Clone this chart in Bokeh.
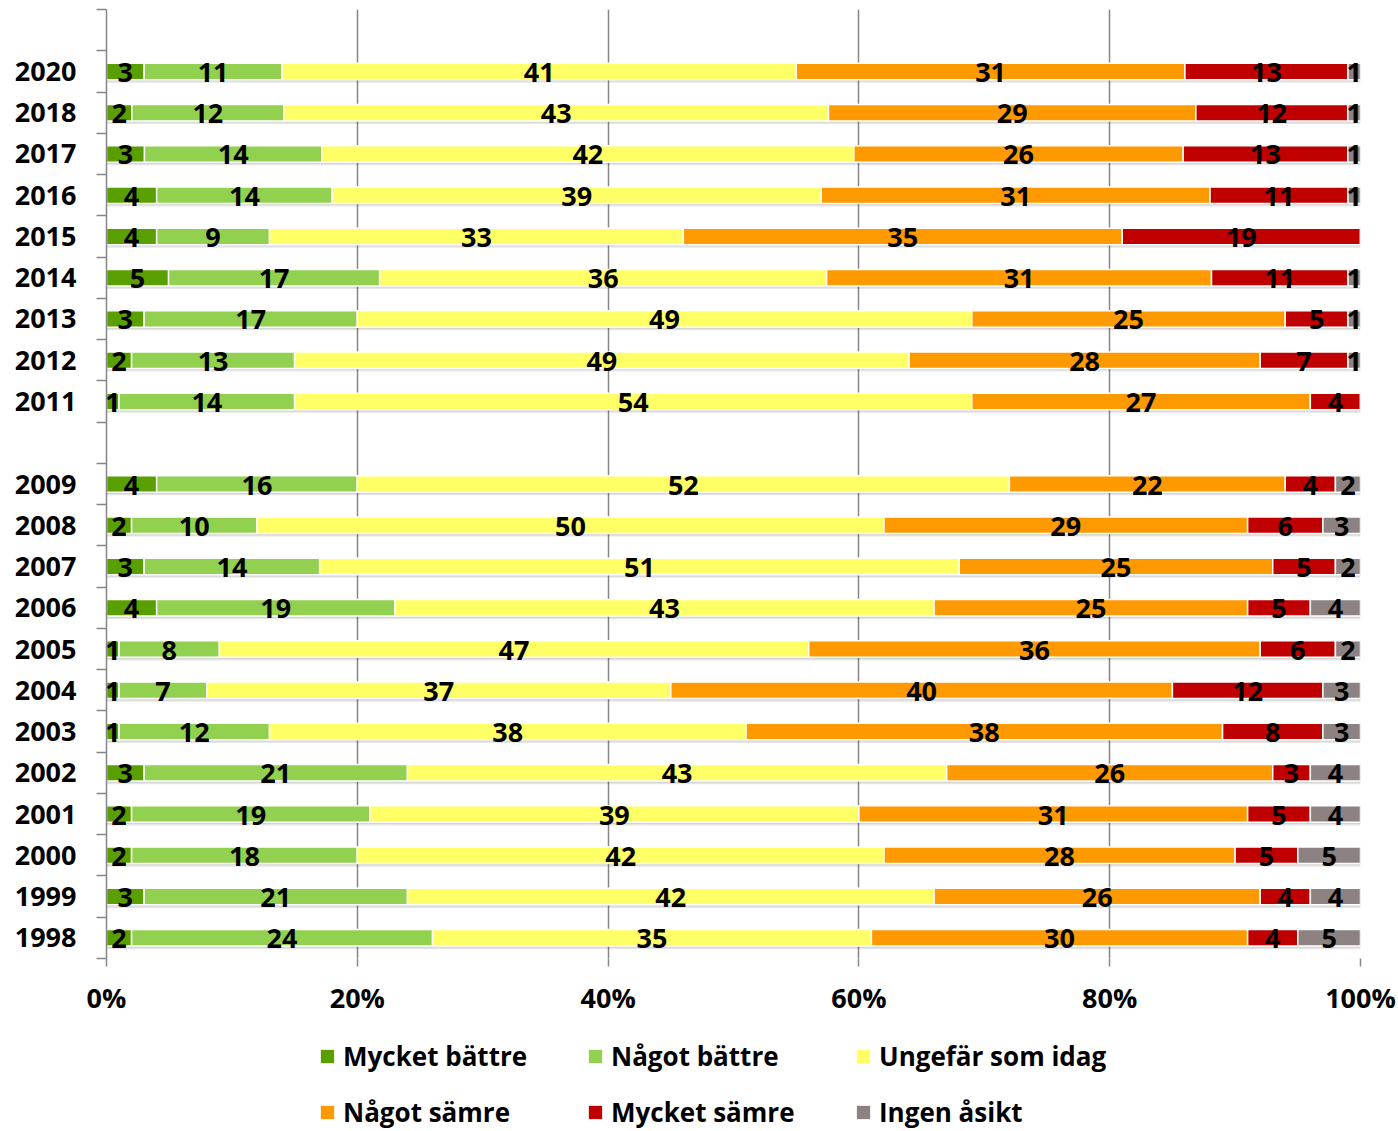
import numpy as np
from bokeh.plotting import figure
from bokeh.layouts import column
from bokeh.models import (ColumnDataSource, Range1d, FixedTicker, Legend, LegendItem,
                          PrintfTickFormatter)
from bokeh.transform import dodge
from bokeh.core.properties import value
from bokeh.embed import file_html
from bokeh.resources import INLINE

# ---------------- data ----------------
years = ["2020", "2018", "2017", "2016", "2015", "2014", "2013", "2012", "2011",
         "2009", "2008", "2007", "2006", "2005", "2004", "2003", "2002", "2001",
         "2000", "1999", "1998"]
mycket_battre = [3, 2, 3, 4, 4, 5, 3, 2, 1, 4, 2, 3, 4, 1, 1, 1, 3, 2, 2, 3, 2]
nagot_battre = [11, 12, 14, 14, 9, 17, 17, 13, 14, 16, 10, 14, 19, 8, 7, 12, 21, 19, 18, 21, 24]
ungefar_som_idag = [41, 43, 42, 39, 33, 36, 49, 49, 54, 52, 50, 51, 43, 47, 37, 38, 43, 39, 42, 42, 35]
nagot_samre = [31, 29, 26, 31, 35, 31, 25, 28, 27, 22, 29, 25, 25, 36, 40, 38, 26, 31, 28, 26, 30]
mycket_samre = [13, 12, 13, 11, 19, 11, 5, 7, 4, 4, 6, 5, 5, 6, 12, 8, 3, 5, 5, 4, 4]
ingen_asikt = [1, 1, 1, 1, 0, 1, 1, 1, 0, 2, 3, 2, 4, 2, 3, 3, 4, 4, 5, 4, 5]
series_names = ["Mycket bättre", "Något bättre", "Ungefär som idag",
                "Något sämre", "Mycket sämre", "Ingen åsikt"]
series_values = [mycket_battre, nagot_battre, ungefar_som_idag,
                 nagot_samre, mycket_samre, ingen_asikt]
colors = ["#5A9F00", "#92D050", "#FFFF66", "#FF9900", "#C00000", "#8C8282"]
x_ticks = [0, 20, 40, 60, 80, 100]

FONT = "Open Sans"
FSIZE = "27px"
GRID = "#868686"

# ---------------- layout of category slots ----------------
n_slots = 23  # empty slot on top + gap for 2010
slots = [i + 1 if i < 9 else i + 2 for i in range(len(years))]
ycent = [n_slots - s - 0.5 for s in slots]

vals = np.array(series_values, dtype=float)
totals = vals.sum(axis=0)
pct = vals / totals * 100.0
rights = np.cumsum(pct, axis=0)
lefts = rights - pct

p = figure(width=1398, height=1020, output_backend="svg", toolbar_location=None,
           x_range=Range1d(0, 100), y_range=Range1d(0, n_slots),
           min_border_left=106, min_border_right=38, min_border_top=9,
           min_border_bottom=62)
p.outline_line_color = None
p.background_fill_color = "white"
p.border_fill_color = "white"

# soft shadow under each bar
shadow_src = ColumnDataSource(dict(y=ycent, left=lefts[0], right=rights[-1]))
p.hbar(y=dodge("y", -0.075), left="left", right="right", height=0.4, source=shadow_src,
       fill_color="black", fill_alpha=0.10, line_color=None)
p.hbar(y=dodge("y", -0.04), left="left", right="right", height=0.4, source=shadow_src,
       fill_color="black", fill_alpha=0.08, line_color=None)

sources = []
renderers = []
lx, ly, lt = [], [], []
for k, name in enumerate(series_names):
    src = ColumnDataSource(dict(y=ycent, left=lefts[k], right=rights[k]))
    sources.append(src)
    r = p.hbar(y="y", left="left", right="right", height=0.4, source=src,
               fill_color=colors[k], line_color="white", line_width=1.5)
    renderers.append(r)
    for j in range(len(years)):
        v = series_values[k][j]
        if v > 0:
            lx.append((lefts[k][j] + rights[k][j]) / 2)
            ly.append(ycent[j])
            lt.append(str(v))

p.text(x=lx, y=ly, text=lt, text_font=value(FONT), text_font_style="bold",
       text_font_size=FSIZE, text_align="center", text_baseline="middle",
       text_color="black", y_offset=1)

# axes
xa = p.xaxis[0]
xa.ticker = FixedTicker(ticks=x_ticks)
xa.formatter = PrintfTickFormatter(format="%d%%")
xa.axis_line_color = None
xa.major_tick_out = 8
xa.major_tick_in = 0
xa.major_tick_line_color = GRID
xa.major_tick_line_width = 1.5
xa.minor_tick_line_color = None
xa.major_label_text_font = FONT
xa.major_label_text_font_style = "bold"
xa.major_label_text_font_size = FSIZE
xa.major_label_text_color = "black"
xa.major_label_standoff = 12

ya = p.yaxis[0]
ya.ticker = FixedTicker(ticks=ycent, minor_ticks=list(range(n_slots + 1)))
ya.major_label_overrides = {float(y): yr for y, yr in zip(ycent, years)}
ya.axis_line_color = GRID
ya.axis_line_width = 1.5
ya.major_tick_out = 0
ya.major_tick_in = 0
ya.minor_tick_out = 10
ya.minor_tick_in = 0
ya.minor_tick_line_color = GRID
ya.minor_tick_line_width = 1.5
ya.major_label_text_font = FONT
ya.major_label_text_font_style = "bold"
ya.major_label_text_font_size = FSIZE
ya.major_label_text_color = "black"
ya.major_label_standoff = 20

p.xgrid.ticker = FixedTicker(ticks=x_ticks)
p.xgrid.grid_line_color = GRID
p.xgrid.grid_line_width = 1.5
p.ygrid.grid_line_color = None

# ---------------- legend (separate strip below) ----------------
# the strip's ranges lie outside the data, so only the legend is visible there
lg = figure(width=1398, height=111, output_backend="svg", toolbar_location=None,
            x_range=Range1d(200, 300), y_range=Range1d(200, 300),
            x_axis_location=None, y_axis_location=None, min_border=0)
lg.outline_line_color = None
lg.xgrid.visible = False
lg.ygrid.visible = False
lg_renderers = [lg.hbar(y="y", left="left", right="right", height=0.4, source=s,
                        fill_color=c, line_color="white", line_width=1)
                for s, c in zip(sources, colors)]

legend = Legend(items=[LegendItem(label=n, renderers=[r]) for n, r in zip(series_names, lg_renderers)],
                orientation="horizontal", ncols=3, location=(212, 1),
                padding=0, margin=0, spacing=20, glyph_width=18, glyph_height=18,
                label_standoff=7, label_width=223, label_height=30,
                label_text_font=FONT, label_text_font_style="bold",
                label_text_font_size="26px", label_text_color="black",
                border_line_color=None, background_fill_alpha=0)
lg.add_layout(legend, "center")

layout = column(p, lg, spacing=0)
open("out.html", "w").write(file_html(layout, INLINE))
